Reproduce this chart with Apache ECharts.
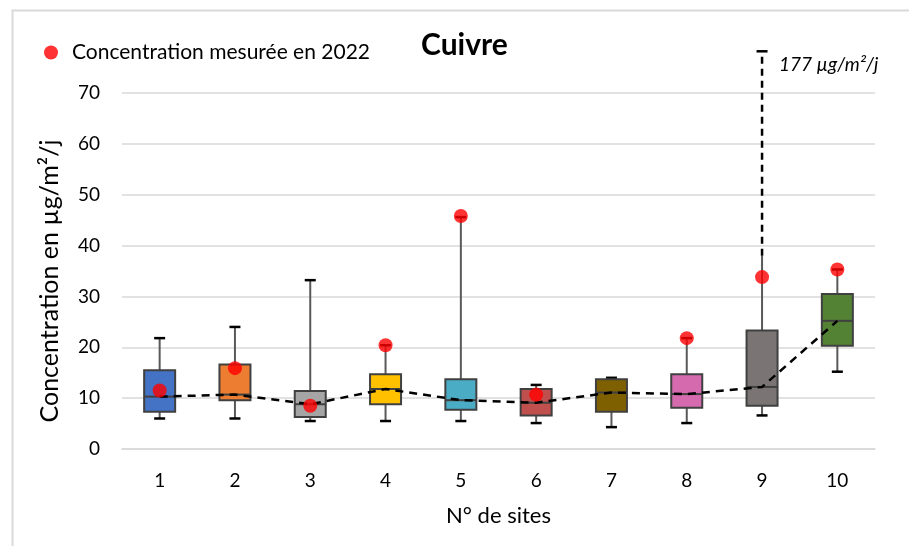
<!DOCTYPE html>
<html>
<head>
<meta charset="utf-8">
<script src="https://cdn.jsdelivr.net/npm/echarts@6/dist/echarts.min.js"></script>
<style>
  html, body { margin: 0; padding: 0; background: #fff; }
  #chart { width: 909px; height: 546px; }
</style>
</head>
<body>
<div id="chart"></div>
<script>
// Copper deposition per site: box statistics and 2022 measurements (µg/m²/j)
const sites = ['1', '2', '3', '4', '5', '6', '7', '8', '9', '10'];
const whiskerLow = [6.0, 6.0, 5.5, 5.5, 5.5, 5.1, 4.3, 5.1, 6.6, 15.2];
const quartile1 = [7.3, 9.6, 6.3, 8.8, 7.7, 6.6, 7.3, 8.1, 8.5, 20.3];
const medians = [10.3, 10.7, 8.8, 11.8, 9.6, 9.1, 11.1, 10.8, 12.2, 25.2];
const quartile3 = [15.5, 16.6, 11.4, 14.7, 13.7, 11.8, 13.7, 14.7, 23.3, 30.5];
const whiskerHigh = [21.8, 24.0, 33.2, 20.4, 45.6, 12.6, 14.0, 21.8, 177, 35.3];
const measured2022 = [11.5, 15.9, 8.5, 20.4, 45.8, 10.7, null, 21.8, 33.8, 35.3];
const boxColors = ['#4472C4', '#ED7D31', '#A5A5A5', '#FFC000', '#4BACC6',
                   '#C0504D', '#7F6000', '#D56BAE', '#7A7574', '#548235'];
const yTicks = [0, 10, 20, 30, 40, 50, 60, 70];

// Off-scale whiskers are broken: solid up to breakStart, then dashed to the top edge
const axisMax = 70;
const breakStart = 38;
const displayCeiling = 78.2;

const boxRows = sites.map((s, i) => [i, whiskerLow[i], quartile1[i], medians[i], quartile3[i], whiskerHigh[i]]);

const FONT = 'Lato, "Open Sans", sans-serif';

function renderBox(params, api) {
  const i = api.value(0);
  const lowV = api.value(1), q1V = api.value(2), medV = api.value(3), q3V = api.value(4), highV = api.value(5);
  const x = api.coord([i, 0])[0];
  const y = v => api.coord([i, v])[1];
  const halfBox = 15.5, halfCap = 5.5;
  const whisker = { stroke: '#595959', lineWidth: 2 };
  const cap = { stroke: '#000', lineWidth: 2.5 };
  const children = [];
  const broken = highV > axisMax;
  const topSolid = broken ? breakStart : highV;

  children.push({ type: 'line', shape: { x1: x, y1: y(q3V), x2: x, y2: y(topSolid) }, style: whisker });
  children.push({ type: 'line', shape: { x1: x, y1: y(q1V), x2: x, y2: y(lowV) }, style: whisker });
  children.push({ type: 'line', shape: { x1: x - halfCap, y1: y(lowV), x2: x + halfCap, y2: y(lowV) }, style: cap });
  if (broken) {
    const yTop = y(displayCeiling);
    children.push({ type: 'line', shape: { x1: x, y1: y(breakStart), x2: x, y2: yTop },
      style: { stroke: '#000', lineWidth: 2.5, lineDash: [7, 5] } });
    children.push({ type: 'line', shape: { x1: x - halfCap, y1: yTop, x2: x + halfCap, y2: yTop }, style: cap });
    children.push({ type: 'text', style: {
      x: x + 17, y: yTop + 14, text: Math.round(highV) + ' µg/m²/j',
      font: 'italic 19px ' + FONT, fill: '#000', verticalAlign: 'middle', align: 'left' } });
  } else {
    children.push({ type: 'line', shape: { x1: x - halfCap, y1: y(highV), x2: x + halfCap, y2: y(highV) }, style: cap });
  }
  children.push({ type: 'rect',
    shape: { x: x - halfBox, y: y(q3V), width: 2 * halfBox, height: y(q1V) - y(q3V) },
    style: { fill: boxColors[i], stroke: '#404040', lineWidth: 2 } });
  children.push({ type: 'line', shape: { x1: x - halfBox, y1: y(medV), x2: x + halfBox, y2: y(medV) },
    style: { stroke: '#404040', lineWidth: 2 } });
  return { type: 'group', children };
}

const chart = echarts.init(document.getElementById('chart'), null, { renderer: 'canvas' });
chart.setOption({
  animation: false,
  backgroundColor: '#fff',
  textStyle: { fontFamily: FONT },
  graphic: [{
    type: 'rect', left: 10, top: 8, z: -10,
    shape: { width: 940, height: 580 },
    style: { fill: 'none', stroke: '#d9d9d9', lineWidth: 2 }
  }, {
    type: 'text', left: 421, top: 30,
    style: { text: 'Cuivre', font: 'bold 30px ' + FONT, fill: '#000' }
  }, {
    type: 'text', x: 50, y: 281, rotation: Math.PI / 2,
    style: { text: 'Concentration en µg/m²/j', font: '25px ' + FONT, fill: '#000',
             align: 'center', verticalAlign: 'middle' }
  }],
  legend: {
    left: 39, top: 37,
    icon: 'circle', itemWidth: 14, itemHeight: 14,
    textStyle: { fontSize: 21, color: '#000', fontFamily: FONT, padding: [0, 0, 0, 9] },
    data: ['Concentration mesurée en 2022']
  },
  grid: { left: 122, right: 34, top: 93, bottom: 97 },
  xAxis: {
    type: 'category',
    data: sites,
    name: 'N° de sites',
    nameLocation: 'middle',
    nameGap: 56,
    nameTextStyle: { fontSize: 22, color: '#000', fontFamily: FONT },
    axisLine: { show: true, lineStyle: { color: '#d9d9d9', width: 1.5 } },
    axisTick: { show: false },
    axisLabel: { fontSize: 19, color: '#000', margin: 22, fontFamily: FONT }
  },
  yAxis: {
    type: 'value',
    min: yTicks[0], max: yTicks[yTicks.length - 1], interval: 10,
    axisLine: { show: false },
    axisTick: { show: false },
    axisLabel: { fontSize: 19, color: '#000', margin: 22, fontFamily: FONT },
    splitLine: { lineStyle: { color: '#d9d9d9', width: 1.5 } }
  },
  series: [{
    type: 'custom',
    name: 'boxes',
    data: boxRows,
    encode: { x: 0, y: [1, 2, 3, 4, 5] },
    clip: false,
    renderItem: renderBox,
    z: 2
  }, {
    type: 'line',
    name: 'Médiane',
    data: medians,
    symbol: 'none',
    lineStyle: { color: '#000', width: 2.5, type: [8, 6] },
    z: 3
  }, {
    type: 'scatter',
    name: 'Concentration mesurée en 2022',
    data: measured2022,
    symbol: 'circle',
    symbolSize: 14,
    itemStyle: { color: '#FF0000' },
    z: 4
  }]
});
</script>
</body>
</html>
